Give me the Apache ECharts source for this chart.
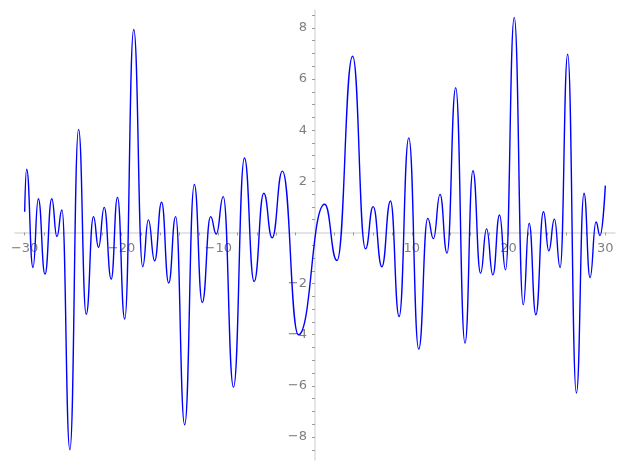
<!DOCTYPE html>
<html><head><meta charset="utf-8">
<script src="https://cdn.jsdelivr.net/npm/echarts@6/dist/echarts.min.js"></script>
<style>html,body{margin:0;padding:0;background:#fff}#c{width:627px;height:469px}</style>
</head><body><div id="c"></div>
<script>
// curve sample points (turning points)
const xValues = [-30.0,-29.8,-29.14,-28.59,-27.9,-27.2,-26.67,-26.15,-25.33,-24.43,-23.64,-22.89,-22.37,-21.78,-21.06,-20.41,-19.66,-18.73,-17.80,-17.22,-16.57,-15.85,-15.12,-14.4,-13.47,-12.47,-11.65,-10.79,-10.2,-9.48,-8.42,-7.29,-6.29,-5.29,-4.43,-3.37,-1.72,1.0,2.27,3.89,5.22,6.01,6.91,7.80,8.69,9.69,10.72,11.65,12.24,12.92,13.64,14.54,15.5,16.32,17.11,17.73,18.38,19.07,19.69,20.59,21.52,22.13,22.82,23.61,24.16,24.74,25.33,26.11,27.01,27.8,28.42,29.04,29.45,30.0];
const yValues = [0.81,2.47,-1.37,1.32,-1.63,1.32,-0.16,0.88,-8.5,4.03,-3.2,0.62,-0.58,0.98,-1.83,1.37,-3.39,7.94,-1.34,0.49,-1.11,1.18,-1.98,0.62,-7.52,1.88,-2.74,0.62,-0.06,1.40,-6.05,2.91,-1.92,1.53,-0.21,2.40,-4.0,1.10,-1.10,6.89,-0.64,1.01,-1.34,1.23,-3.29,3.70,-4.56,0.55,-0.24,1.49,-0.81,5.66,-4.33,2.41,-1.59,0.14,-1.66,0.68,-1.46,8.41,-2.83,0.36,-3.22,0.81,-0.72,0.52,-1.37,6.97,-6.28,1.53,-1.77,0.41,-0.12,1.83];
const xTicks = [-30,-28,-26,-24,-22,-20,-18,-16,-14,-12,-10,-8,-6,-4,-2,2,4,6,8,10,12,14,16,18,20,22,24,26,28,30];
const xLabels = [-30,-20,-10,10,20,30];
const yTicks = [-8.5,-8,-7.5,-7,-6.5,-6,-5.5,-5,-4.5,-4,-3.5,-3,-2.5,-2,-1.5,-1,-0.5,0.5,1,1.5,2,2.5,3,3.5,4,4.5,5,5.5,6,6.5,7,7.5,8,8.5];
const yLabels = [-8,-6,-4,-2,2,4,6,8];

const fmt = v => (v < 0 ? '\u2212' + Math.abs(v) : String(v));
const labelStyle = {color:'#7f7f7f', fontFamily:'DejaVu Sans', fontSize:13};

const X_MIN = -31, X_MAX = 31, Y_MIN = -8.9, Y_MAX = 8.7;
const G = {left:15, right:12, top:10, bottom:9};
const W = 627, H = 469;
const gw = W - G.left - G.right, gh = H - G.top - G.bottom;
// place the axes through the origin (as in the reference)
const xOffset = -(gh * (0 - Y_MIN) / (Y_MAX - Y_MIN));
const yOffset = -(gw * (0 - X_MIN) / (X_MAX - X_MIN));

const chart = echarts.init(document.getElementById('c'), null, {renderer:'canvas'});
chart.setOption({
  animation:false,
  grid:Object.assign({outerBoundsMode:'none', containLabel:false}, G),
  xAxis:{type:'value', min:X_MIN, max:X_MAX, position:'bottom', offset:xOffset,
    axisLine:{onZero:false, lineStyle:{color:'#dcdcdc', width:1.5}},
    axisTick:{show:true, customValues:xTicks, length:3, lineStyle:{color:'#9a9a9a'}},
    axisLabel:Object.assign({customValues:xLabels, formatter:fmt, margin:10}, labelStyle),
    splitLine:{show:false}},
  yAxis:{type:'value', min:Y_MIN, max:Y_MAX, position:'left', offset:yOffset,
    axisLine:{onZero:false, lineStyle:{color:'#dcdcdc', width:1.5}},
    axisTick:{show:true, customValues:yTicks, length:3, lineStyle:{color:'#9a9a9a'}},
    axisLabel:Object.assign({customValues:yLabels, formatter:fmt, margin:8}, labelStyle),
    splitLine:{show:false}},
  series:[{type:'line', data:xValues.map((x,i)=>[x,yValues[i]]), showSymbol:false,
    smooth:0.5, smoothMonotone:'x', lineStyle:{color:'#0000ff', width:1.4}}]
});
</script></body></html>
